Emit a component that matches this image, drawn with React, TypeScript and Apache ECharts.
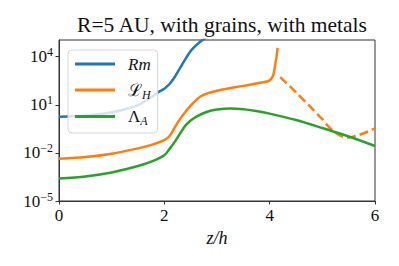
import React, { useEffect, useRef } from "react";
import * as echarts from "echarts";

// z/h positions and log10 values
const rmZ = [0, 0.3, 0.6, 0.9, 1.2, 1.5, 1.8, 1.9, 2.0, 2.05, 2.1, 2.2, 2.3, 2.4, 2.5, 2.6, 2.7, 2.8, 3.0];
const rmLog10 = [0.26, 0.29, 0.35, 0.47, 0.68, 0.98, 1.58, 1.82, 2.0, 2.15, 2.3, 2.75, 3.3, 3.85, 4.35, 4.7, 4.98, 5.2, 5.55];

const lhZ = [0, 0.5, 1.0, 1.5, 1.8, 2.0, 2.1, 2.2, 2.3, 2.4, 2.5, 2.7, 3.0, 3.5, 3.9, 4.0, 4.05, 4.08, 4.1, 4.13, 4.15];
const lhLog10 = [-2.36, -2.26, -2.05, -1.72, -1.45, -1.2, -0.95, -0.4, 0.12, 0.55, 0.95, 1.55, 1.88, 2.18, 2.42, 2.52, 2.72, 3.0, 3.4, 4.0, 4.55];

const lhDashZ = [4.2, 4.5, 4.8, 5.0, 5.1, 5.2, 5.3, 5.4, 5.5, 5.6, 5.8, 6.0];
const lhDashLog10 = [2.72, 1.78, 0.78, 0.1, -0.3, -0.62, -0.85, -1.0, -1.04, -0.98, -0.76, -0.47];

const laZ = [0, 0.5, 1.0, 1.5, 1.8, 2.0, 2.1, 2.2, 2.3, 2.4, 2.5, 2.6, 2.8, 3.0, 3.25, 3.5, 3.8, 4.0, 4.5, 5.0, 5.5, 6.0];
const laLog10 = [-3.6, -3.47, -3.22, -2.82, -2.48, -2.15, -1.75, -1.3, -0.78, -0.3, 0.02, 0.25, 0.55, 0.7, 0.77, 0.72, 0.58, 0.45, 0.05, -0.45, -0.98, -1.57];

const yTickExponents = [-5, -2, 1, 4];
const xTicks = [0, 2, 4, 6];

const TITLE = "R=5 AU, with grains, with metals";
const SERIF = "Liberation Serif";

const pairs = (xs: number[], ys: number[]) => xs.map((x, i) => [x, ys[i]]);

export default function App() {
  const ref = useRef<HTMLDivElement>(null);
  useEffect(() => {
    if (!ref.current) return;
    const chart = echarts.init(ref.current, null, { renderer: "svg" });
    const lw = 2.5;
    chart.setOption({
      animation: false,
      backgroundColor: "#fff",
      textStyle: { fontFamily: SERIF },
      title: {
        text: TITLE,
        left: 217,
        textAlign: "center",
        top: 9,
        textStyle: { fontFamily: SERIF, fontWeight: "normal", fontSize: 21.5, color: "#111" },
      },
      grid: {
        left: 59,
        right: 24,
        top: 40,
        bottom: 65,
        show: true,
        borderColor: "#333",
        borderWidth: 1,
        backgroundColor: "transparent",
      },
      legend: {
        orient: "vertical",
        left: 68,
        top: 50,
        data: ["Rm", "LH", "LA"],
        icon: "rect",
        itemWidth: 40,
        itemHeight: 3,
        itemGap: 6,
        padding: [4, 7, 6, 7],
        backgroundColor: "rgba(255,255,255,0.8)",
        borderColor: "#d6d6d6",
        borderWidth: 1,
        borderRadius: 4,
        formatter: (name: string) => {
          if (name === "Rm") return "{it|Rm}";
          if (name === "LH") return "{n|ℒ}{sub|H}";
          return "{n|Λ}{sub|A}";
        },
        textStyle: {
          fontFamily: SERIF,
          padding: [0, 0, 0, 8],
          lineHeight: 20,
          rich: {
            it: { fontFamily: SERIF, fontStyle: "italic", fontSize: 17, color: "#111", lineHeight: 20 },
            n: { fontFamily: SERIF, fontSize: 17, color: "#111", lineHeight: 20 },
            sub: { fontFamily: SERIF, fontStyle: "italic", fontSize: 12, color: "#111", padding: [9, 0, 0, 0] },
          },
        },
      },
      xAxis: {
        type: "value",
        min: 0,
        max: 6,
        interval: 2,
        name: "z/h",
        nameLocation: "middle",
        nameGap: 23,
        nameTextStyle: { fontFamily: SERIF, fontStyle: "italic", fontSize: 18, color: "#111" },
        axisLine: { show: true, onZero: false, lineStyle: { color: "#333", width: 1 } },
        axisTick: { show: true, inside: false, length: 3.5, lineStyle: { color: "#333" }, customValues: xTicks },
        axisLabel: { fontFamily: SERIF, fontSize: 17, color: "#111", margin: 6, customValues: xTicks },
        splitLine: { show: false },
      },
      yAxis: {
        type: "value",
        min: -5,
        max: 5.04,
        axisLine: { show: true, onZero: false, lineStyle: { color: "#333", width: 1 } },
        axisTick: { show: true, inside: false, length: 3.5, lineStyle: { color: "#333" }, customValues: yTickExponents },
        axisLabel: {
          margin: 6,
          fontFamily: SERIF,
          customValues: yTickExponents,
          formatter: (v: number) => `{b|10}{s|${v < 0 ? "\u2212" + -v : v}}`,
          rich: {
            b: { fontFamily: SERIF, fontSize: 17, color: "#111" },
            s: { fontFamily: SERIF, fontSize: 12, color: "#111", padding: [0, 0, 9, 0] },
          },
        },
        splitLine: { show: false },
      },
      series: [
        {
          name: "Rm",
          type: "line",
          data: pairs(rmZ, rmLog10),
          smooth: 0.3,
          showSymbol: false,
          clip: true,
          color: "#1f77b4",
          lineStyle: { width: lw, color: "#1f77b4" },
          z: 2,
        },
        {
          name: "LH",
          type: "line",
          data: pairs(lhZ, lhLog10),
          smooth: 0.3,
          showSymbol: false,
          clip: true,
          color: "#ff7f0e",
          lineStyle: { width: lw, color: "#ff7f0e" },
          z: 3,
        },
        {
          name: "LHdash",
          type: "line",
          data: pairs(lhDashZ, lhDashLog10),
          smooth: 0.3,
          showSymbol: false,
          clip: true,
          color: "#ff7f0e",
          lineStyle: { width: lw, color: "#ff7f0e", type: [9, 4] },
          z: 3,
        },
        {
          name: "LA",
          type: "line",
          data: pairs(laZ, laLog10),
          smooth: 0.3,
          showSymbol: false,
          clip: true,
          color: "#2ca02c",
          lineStyle: { width: lw, color: "#2ca02c" },
          z: 4,
        },
      ],
    });
    return () => chart.dispose();
  }, []);
  return (
    <div
      ref={ref}
      style={{ position: "fixed", left: 0, top: 0, width: 399, height: 266 }}
    />
  );
}
